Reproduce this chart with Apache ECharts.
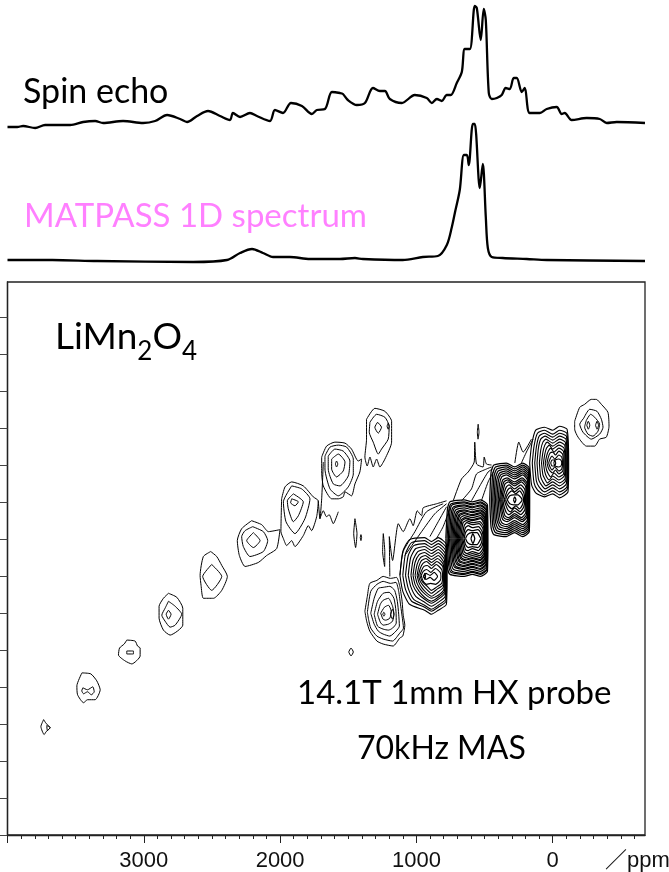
<!DOCTYPE html>
<html><head><meta charset="utf-8">
<style>html,body{margin:0;padding:0;background:#fff;overflow:hidden}#c{width:669px;height:872px}</style>
<script src="https://cdn.jsdelivr.net/npm/echarts@6/dist/echarts.min.js"></script>
</head><body><div id="c"></div>
<script>
// 1D traces: shift (ppm) and intensity (a.u.)
const spinPpm=[4000,3929,3885,3797,3724,3540,3445,3357,3299,3152,3005,2917,2829,2734,2683,2609,2529,2441,2368,2346,2294,2221,2170,2074,2038,1979,1920,1840,1767,1730,1671,1620,1561,1539,1503,1437,1378,1319,1268,1231,1195,1107,1012,924,887,850,814,777,748,704,667,645,608,572,557,528,506,491,469,447,410,374,345,315,286,264,227,205,169,95,44,-29,-66,-88,-139,-249,-345,-396,-469,-677];
const spinVal=[3,3,4,2,5,5,8,9,7,9,7,9,15,11,8,14,19,14,10,17,13,17,14,9,20,17,27,24,16,20,21,38,37,36,30,25,27,42,39,39,31,27,35,32,27,31,29,35,35,47,58,81,81,124,122,90,121,110,37,31,32,35,42,41,52,52,38,42,17,17,21,23,16,17,10,12,11,7,8,7];
const matPpm=[4000,3672,3342,2639,2390,2294,2206,2126,2052,1928,1781,1561,1451,1393,1100,953,843,777,740,718,682,652,630,616,586,572,535,513,491,476,447,367,191,44,-677];
const matVal=[5,5,4,3,5,12,16,12,8,8,6,6,7,6,5,8,9,20,38,52,75,110,110,100,141,141,77,101,48,17,8,7,6,5,4];
const ticksMajor=[0,1000,2000,3000,4000];
const ticksMinor=[-600,-500,-400,-300,-200,-100,100,200,300,400,500,600,700,800,900,1100,1200,1300,1400,1500,1600,1700,1800,1900,2100,2200,2300,2400,2500,2600,2700,2800,2900,3100,3200,3300,3400,3500,3600,3700,3800,3900];
const ticksF1=[0,37.2,74.4,111.6,148.8,186,223.2,260.4,297.6,334.8,372,409.2,446.4,483.6,520.8];
// 2D contours: flat lists of ppm, F1 pairs
const sidebandsLeft=[
[3735,116,3755,109,3731,101,3716,104,3687,108,3716,112],
[3712,110,3687,108,3707,105],
[3454,163,3389,162,3345,155,3320,146,3357,136,3413,136,3442,133,3486,141,3491,150],
[3447,148,3413,146,3374,149,3364,144,3385,141,3413,144,3442,142,3455,145],
[3125,196,3064,195,3046,190,3027,188,3027,180,3088,172,3137,175,3186,181,3178,188,3144,192],
[3125,185,3076,185,3076,182,3125,182],
[2819,243,2758,239,2714,228,2714,211,2807,201,2856,206,2888,218,2888,230,2856,238],
[2819,235,2770,230,2722,222,2770,211,2807,209,2844,215,2868,221,2844,228],
[2819,226,2800,222,2819,217,2836,222],
[2509,285,2465,280,2428,271,2387,260,2428,246,2489,238,2563,238,2580,251,2587,261,2563,280],
[2502,272,2428,260,2502,246,2568,260],
[2209,316,2135,312,2086,305,2001,307,2025,288,2099,281,2160,274,2257,270,2299,281,2314,296,2282,308],
[2201,310,2123,305,2091,296,2123,285,2221,280,2270,290,2282,300,2257,306],
[2196,304,2147,296,2196,289,2245,296],
[1989,338,1964,350,1915,355,1830,351,1757,340,1720,336,1732,320,1769,306,1793,311,1830,301,1891,290,1915,296,1952,291,1976,298,1994,305],
[1915,351,1842,348,1781,338,1818,318,1891,303,1957,315,1976,335],
[1903,343,1830,335,1866,321,1903,315,1940,328,1947,336],
[1915,338,1866,335,1891,331,1923,334]];
const sidebandsMid=[
[1695,380,1659,391,1598,395,1524,394,1476,388,1427,376,1402,378,1415,365,1451,353,1476,341,1524,345,1537,340,1573,338,1622,338,1683,351,1695,365],
[1671,381,1634,390,1573,392,1512,390,1463,378,1463,363,1500,350,1573,341,1634,348,1671,368],
[1647,381,1598,388,1537,386,1488,376,1500,361,1561,351,1610,353,1647,368],
[1622,378,1573,383,1524,375,1537,366,1586,360,1622,368],
[1595,373,1586,376,1577,373,1586,370],
[1366,418,1305,429,1231,426,1182,416,1182,395,1231,378,1268,370,1292,378,1317,370,1341,380,1361,371,1378,380,1366,398],
[1341,415,1292,423,1231,420,1200,411,1207,398,1256,388,1280,383,1317,395,1346,405],
[1285,415,1256,410,1280,404,1305,410],
[1199,411,1207,414,1215,411,1207,408],
[1451,318,1436,303,1446,289,1460,303],
[1412,299,1407,302,1402,299,1407,296],
[1497,184,1480,188,1463,184,1480,180]];
const peakA=[
[1378,225,1360,240,1342,253,1290,256,1244,260,1190,258,1146,259,1122,250,1105,235,1097,221,1085,211,1100,200,1122,198,1171,190,1244,192,1290,195,1342,205,1365,215],
[1360,224,1335,245,1290,252,1244,255,1190,253,1150,254,1130,245,1115,230,1105,220,1095,208,1122,203,1175,195,1244,197,1290,200,1335,208,1350,216],
[1335,223,1310,238,1280,248,1244,249,1195,250,1160,246,1140,235,1130,222,1125,210,1150,205,1195,200,1244,202,1280,205,1310,212],
[1310,222,1285,235,1244,243,1200,244,1165,238,1150,225,1148,213,1175,208,1205,206,1244,207,1285,210],
[1285,222,1265,232,1244,236,1205,238,1175,230,1165,222,1175,215,1205,212,1244,211,1265,214],
[1262,223,1235,229,1205,231,1185,225,1195,218,1225,216,1245,217],
[1247,222,1239,224,1231,222,1239,220],
[1190,222,1176,227,1165,222,1176,217]];
const peakB=[
[1121,261,1100,285,1050,297,940,299,890,295,840,299,780,292,775,260,780,232,840,226,890,222,940,226,1050,232,1100,245],
[1100,261,1080,283,1035,294,940,296,890,292,840,296,783,289,778,260,783,235,840,229,890,225,940,229,1035,235,1080,247],
[1080,261,1060,281,1020,291,940,293,890,289,840,293,786,286,781,260,786,237,840,231,890,227,940,231,1020,237,1060,248],
[1060,261,1042,279,1005,288,940,290,890,286,840,290,789,283,784,260,789,240,840,234,890,230,940,234,1005,240,1042,250],
[1040,261,1025,276,990,285,940,287,890,283,840,287,792,280,787,260,792,243,840,237,890,233,940,237,990,243,1025,251],
[1025,261,1010,274,980,282,940,284,890,280,840,284,795,277,790,260,795,245,840,239,890,235,940,239,980,245,1010,252],
[1010,261,995,272,970,279,935,281,890,277,840,281,799,274,794,260,799,247,840,241,890,238,935,242,970,247,995,253],
[995,261,982,270,962,276,930,278,890,274,845,278,803,272,798,260,803,249,845,244,890,240,930,244,962,249,982,254],
[985,261,972,268,952,273,925,275,890,271,850,275,807,270,802,260,807,251,850,247,890,243,925,247,952,251,972,255],
[975,261,962,266,945,270,920,271,890,268,855,272,815,267,808,260,815,253,855,249,890,246,920,250,945,253,962,256],
[965,261,950,265,925,267,895,264,860,268,825,264,820,260,825,256,860,252,895,253,925,252,950,255],
[950,260,930,263,900,261,870,264,845,260,870,256,900,259,930,257],
[945,260,939,263,933,260,939,257]];
const peakC=[
[784,298,772,328,754,335,650,337,590,335,530,337,479,332,476,298,479,265,530,260,590,262,650,260,754,262,772,269],
[775,298,763,326,745,333,650,335,590,333,530,335,481,330,478,298,481,267,530,262,590,264,650,262,745,264,763,271],
[766,298,754,325,736,332,650,334,590,332,530,334,483,329,480,298,483,268,530,263,590,265,650,263,736,265,754,272],
[757,298,745,323,727,330,650,332,590,330,530,332,485,327,482,298,485,270,530,265,590,267,650,265,727,267,745,274],
[748,298,736,322,718,329,650,331,590,329,530,331,487,326,484,298,487,272,530,267,590,269,650,267,718,269,736,276],
[740,298,728,320,710,327,650,329,590,327,530,329,489,324,486,298,489,273,530,268,590,270,650,268,710,270,728,277],
[732,298,720,318,702,325,650,327,590,325,530,327,491,322,488,298,491,275,530,270,590,272,650,270,702,272,720,279],
[724,298,712,317,694,324,650,326,590,324,530,326,493,321,490,298,493,276,530,271,590,273,650,271,694,273,712,280],
[716,298,704,315,688,322,650,324,590,322,530,324,495,319,492,298,495,278,530,273,590,275,650,273,688,275,704,282],
[708,298,697,314,682,321,650,323,590,321,530,323,497,318,494,298,497,279,530,274,590,276,650,274,682,276,697,283],
[700,298,690,312,676,319,650,321,590,319,530,321,499,316,496,298,499,281,530,276,590,278,650,276,676,278,690,285],
[692,298,683,310,670,317,645,319,590,317,530,319,501,314,498,298,501,282,530,277,590,279,645,277,670,279,683,286],
[684,298,676,308,665,316,640,318,590,316,530,318,503,312,500,298,503,284,530,279,590,281,640,279,665,281,676,288],
[676,298,668,306,658,314,635,316,590,314,535,315,507,310,503,298,507,286,535,281,590,283,635,281,658,283,668,290],
[668,298,660,304,650,311,630,314,590,312,540,313,512,308,506,298,512,288,540,283,590,285,630,283,650,285,660,292],
[660,298,652,303,640,309,620,311,590,309,545,310,517,305,510,298,517,291,545,286,590,288,620,286,640,287,652,293],
[650,298,640,304,620,307,590,306,550,307,525,303,518,298,525,293,550,289,590,290,620,289,640,292],
[640,298,625,302,595,304,555,304,535,300,528,298,535,296,555,292,595,292,625,294],
[600,298,586,303,572,298,586,293]];
const peakD=[
[462,337,452,365,432,372,340,374,280,370,220,374,172,369,169,337,172,305,220,300,280,304,340,300,432,302,452,309],
[450,337,440,363,420,370,340,372,280,368,220,372,174,367,171,337,174,307,220,302,280,306,340,302,420,304,440,311],
[440,337,430,361,410,368,340,370,280,366,220,370,176,365,173,337,176,309,220,304,280,308,340,304,410,306,430,313],
[430,337,420,359,400,366,340,368,280,364,220,368,178,363,175,337,178,311,220,306,280,310,340,306,400,308,420,315],
[420,337,410,357,390,364,340,366,280,362,220,366,180,361,177,337,180,313,220,308,280,312,340,308,390,310,410,317],
[410,337,400,355,382,362,340,364,280,360,220,364,183,359,180,337,183,315,220,310,280,314,340,310,382,312,400,319],
[400,337,390,353,374,360,340,362,280,358,220,362,186,357,183,337,186,317,220,312,280,316,340,312,374,314,390,321],
[390,337,380,350,366,357,335,359,280,355,225,359,189,354,186,337,189,320,225,315,280,319,335,315,366,317,380,324],
[382,337,372,348,358,355,330,357,280,353,225,357,193,352,190,337,193,322,225,317,280,321,330,317,358,319,372,326],
[374,337,364,346,350,353,325,355,280,351,230,355,198,350,195,337,198,324,230,319,280,323,325,319,350,321,364,328],
[366,337,356,344,340,350,320,352,280,348,235,352,204,347,200,337,204,327,235,322,280,326,320,322,340,324,356,330],
[356,337,345,342,330,347,310,349,280,345,240,349,212,344,206,337,212,330,240,325,280,329,310,325,330,327,345,332],
[346,337,335,341,320,344,300,346,270,343,245,346,222,342,214,337,222,332,245,328,270,331,300,328,320,330,335,333],
[334,337,315,341,285,342,255,342,232,339,225,337,232,335,255,332,285,332,315,333],
[288,337,279,340,270,337,279,334]];
const peakE=[
[169,374,155,392,125,407,60,410,0,407,-50,411,-105,408,-117,374,-112,345,-50,339,0,343,60,340,125,344,155,352],
[150,374,137,391,112,404,60,407,0,403,-50,407,-103,404,-113,374,-108,348,-50,342,0,346,60,342,112,347,137,354],
[132,374,120,390,100,401,60,404,0,400,-50,404,-100,401,-109,374,-104,350,-50,345,0,349,60,345,100,350,120,356],
[115,374,105,389,88,398,55,401,0,397,-50,401,-97,398,-105,374,-100,353,-50,348,0,352,55,348,88,353,105,358],
[98,374,88,387,72,395,50,398,0,394,-50,398,-92,395,-100,374,-95,356,-50,351,0,355,50,351,72,355,88,360],
[82,374,72,385,58,392,40,395,0,391,-50,395,-88,392,-95,374,-90,358,-50,354,0,358,40,354,58,358,72,362],
[68,374,58,383,45,389,25,392,0,388,-45,392,-83,389,-90,374,-85,361,-45,357,0,361,25,357,45,360,58,365],
[55,374,45,381,32,386,15,389,-10,385,-45,389,-78,386,-84,374,-79,363,-45,360,-10,364,15,360,32,363,45,367],
[42,374,32,380,20,384,0,385,-20,382,-45,386,-72,383,-78,374,-73,366,-45,363,-20,367,0,364,20,366,32,369],
[30,374,20,378,5,381,-15,378,-45,382,-66,380,-72,374,-66,368,-45,366,-15,370,5,367,20,370],
[15,374,5,377,-15,377,-40,378,-60,377,-66,374,-60,371,-40,370,-15,371,5,371],
[-8,374,-15,377,-22,374,-15,371]];
const peakF=[
[-161,416,-198,430,-234,433,-283,438,-320,438,-357,433,-405,425,-413,411,-393,400,-344,398,-308,391,-247,391,-186,400,-161,408],
[-227,419,-271,428,-325,426,-357,418,-369,410,-344,403,-283,398,-222,405,-198,413],
[-247,417,-278,423,-308,420,-344,413,-332,406,-295,401,-259,403,-234,410],
[-250,412,-261,416,-272,412,-261,408],
[-314,412,-325,416,-336,412,-325,408]];
const ridgeTails=[
[1720,336,1708,318,1695,338,1683,375],
[1708,318,1683,326,1660,320,1640,322,1610,313,1573,325],
[1195,260,1199,300,1175,276,1133,313,1097,305,1048,318,1024,311,994,326,962,321,950,329,853,333,779,336],
[1121,261,1097,285,1011,305,926,325,804,333],
[1085,281,962,305,865,323,779,333],
[901,300,840,315,779,330],
[853,298,804,310,755,328],
[730,336,669,358,620,365,576,375,572,395,559,373,511,370,503,380,486,373,449,372],
[669,336,596,348,559,363,486,368,449,370],
[596,336,535,351,474,365,442,368],
[523,336,474,355,432,366],
[278,374,249,395,217,385,156,398],
[230,374,193,385,144,398]];
const narrowLoops=[
[1243,303,1232,285,1233,270,1248,285],
[547,413,553,405,548,398,541,405]];

const pairs=(flat,close)=>{const out=[];for(let i=0;i<flat.length;i+=2)out.push([flat[i],flat[i+1]]);if(close)out.push(out[0]);return out;};
const contour=(flat,close,w)=>({type:'line',xAxisIndex:3,yAxisIndex:2,data:pairs(flat,close),symbol:'none',silent:true,animation:false,smooth:0.2,lineStyle:{color:'#000',width:w,join:'round'},z:3});
const trace=(x,v,i)=>({type:'line',xAxisIndex:i,yAxisIndex:i,data:x.map((p,k)=>[p,v[k]]),symbol:'none',silent:true,animation:false,smooth:0.3,lineStyle:{color:'#000',width:2.3,join:'round'}});
const series=[trace(spinPpm,spinVal,0),trace(matPpm,matVal,1)];
[sidebandsLeft,sidebandsMid,peakA,peakF,narrowLoops].forEach(s=>s.forEach(r=>series.push(contour(r,true,1))));
[peakB,peakE].forEach(s=>s.forEach(r=>series.push(contour(r,true,1.1))));
[peakC,peakD].forEach(s=>s.forEach(r=>series.push(contour(r,true,1.25))));
ridgeTails.forEach(r=>series.push(contour(r,false,1)));

const font='Lato';
const hiddenX=g=>({type:'value',gridIndex:g,inverse:true,min:-677,max:4000,show:false});
const chart=echarts.init(document.getElementById('c'));
chart.setOption({
 backgroundColor:'#fff',animation:false,
 grid:[
  {left:7.5,right:24,top:0,height:130},
  {left:7.5,right:24,top:115,height:150},
  {left:7.5,right:24,top:282,height:556,show:true,borderColor:'#222',borderWidth:1.3,backgroundColor:'transparent'}
 ],
 xAxis:[hiddenX(0),hiddenX(1),
  {type:'value',gridIndex:2,inverse:true,min:-677,max:4000,position:'bottom',splitLine:{show:false},axisLine:{show:true,onZero:false,lineStyle:{color:'#222',width:1.3}},
   axisTick:{show:true,length:4,customValues:ticksMinor,lineStyle:{color:'#222'}},axisLabel:{show:false}},
  {type:'value',gridIndex:2,inverse:true,min:-677,max:4000,position:'bottom',splitLine:{show:false},axisLine:{show:false,onZero:false},
   axisTick:{show:true,length:8,customValues:ticksMajor,lineStyle:{color:'#222'}},
   axisLabel:{show:true,customValues:ticksMajor.slice(0,4),formatter:v=>String(v),margin:15,fontFamily:'Liberation Sans',fontSize:22,color:'#111'}}
 ],
 yAxis:[
  {type:'value',gridIndex:0,min:0,max:130,show:false},
  {type:'value',gridIndex:1,min:0,max:150,show:false},
  {type:'value',gridIndex:2,min:0,max:556,position:'left',splitLine:{show:false},axisLine:{show:true,onZero:false,lineStyle:{color:'#222',width:1.3}},
   axisTick:{show:true,length:7.5,customValues:ticksF1,lineStyle:{color:'#444'}},axisLabel:{show:false}}
 ],
 series,
 graphic:[
  {type:'text',left:23,top:75,style:{text:'Spin echo',fontFamily:font,fontSize:34,fill:'#000'}},
  {type:'text',left:24,top:200,style:{text:'MATPASS 1D spectrum',fontFamily:font,fontSize:33,fill:'#FF80FF'}},
  {type:'text',left:55,top:319,style:{rich:{a:{fontFamily:font,fontSize:37,color:'#000'},s:{fontFamily:font,fontSize:26,color:'#000',padding:[28,0,0,0]}},text:'{a|LiMn}{s|2}{a|O}{s|4}'}},
  {type:'text',left:297,top:677,style:{text:'14.1T 1mm HX probe',fontFamily:font,fontSize:33,fill:'#000'}},
  {type:'text',left:357,top:733,style:{text:'70kHz MAS',fontFamily:font,fontSize:32,fill:'#000'}},
  {type:'text',left:605,top:850,style:{text:'／ppm',fontFamily:'Liberation Sans, Noto Sans CJK JP',fontSize:22,fill:'#111'}}
 ]
});
</script></body></html>
